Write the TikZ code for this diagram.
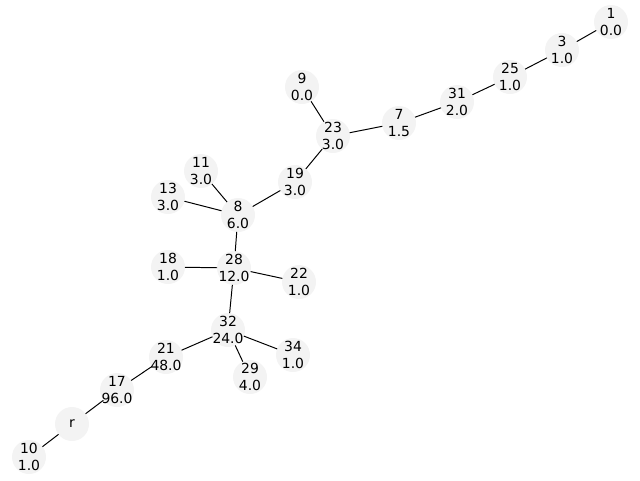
\documentclass[tikz,border=0pt]{standalone}
\usepackage{fontspec}
\setmainfont{DejaVu Sans}
\usepackage{tikz}
\definecolor{vfill}{RGB}{243,243,243}

\begin{document}
\begin{tikzpicture}[scale=0.25]
          \tikzstyle{every label}=[align=center, inner sep=0pt, font=\fontsize{9.9}{11.9}\selectfont]
          \tikzstyle{vtx}=[circle, fill=vfill, minimum size=0.85cm, inner sep=0pt, outer sep=0pt]
          \useasboundingbox (0,0) rectangle (64,-48);
          \node [vtx, label={center:1\\0.0}] (v1) at (61.1,-2.2) {};
          \node [vtx, label={center:3\\1.0}] (v3) at (56.2,-5.0) {};
          \node [vtx, label={center:25\\1.0}] (v25) at (51.0,-7.7) {};
          \node [vtx, label={center:31\\2.0}] (v31) at (45.7,-10.2) {};
          \node [vtx, label={center:7\\1.5}] (v7) at (39.9,-12.3) {};
          \node [vtx, label={center:23\\3.0}] (v23) at (33.3,-13.6) {};
          \node [vtx, label={center:9\\0.0}] (v9) at (30.2,-8.7) {};
          \node [vtx, label={center:19\\3.0}] (v19) at (29.5,-18.2) {};
          \node [vtx, label={center:11\\3.0}] (v11) at (20.1,-17.1) {};
          \node [vtx, label={center:13\\3.0}] (v13) at (16.8,-19.7) {};
          \node [vtx, label={center:8\\6.0}] (v8) at (23.8,-21.5) {};
          \node [vtx, label={center:28\\12.0}] (v28) at (23.4,-26.8) {};
          \node [vtx, label={center:18\\1.0}] (v18) at (16.8,-26.7) {};
          \node [vtx, label={center:22\\1.0}] (v22) at (29.9,-28.2) {};
          \node [vtx, label={center:32\\24.0}] (v32) at (22.8,-33.0) {};
          \node [vtx, label={center:34\\1.0}] (v34) at (29.3,-35.5) {};
          \node [vtx, label={center:29\\4.0}] (v29) at (25.0,-37.7) {};
          \node [vtx, label={center:21\\48.0}] (v21) at (16.6,-35.7) {};
          \node [vtx, label={center:17\\96.0}] (v17) at (11.7,-39.0) {};
          \node [vtx, label={center:r}] (vr) at (7.2,-42.4) {};
          \node [vtx, label={center:10\\1.0}] (v10) at (2.9,-45.7) {};
          \draw [black, line width=0.7pt] (v1) -- (v3);
          \draw [black, line width=0.7pt] (v3) -- (v25);
          \draw [black, line width=0.7pt] (v25) -- (v31);
          \draw [black, line width=0.7pt] (v31) -- (v7);
          \draw [black, line width=0.7pt] (v7) -- (v23);
          \draw [black, line width=0.7pt] (v9) -- (v23);
          \draw [black, line width=0.7pt] (v23) -- (v19);
          \draw [black, line width=0.7pt] (v19) -- (v8);
          \draw [black, line width=0.7pt] (v11) -- (v8);
          \draw [black, line width=0.7pt] (v13) -- (v8);
          \draw [black, line width=0.7pt] (v8) -- (v28);
          \draw [black, line width=0.7pt] (v18) -- (v28);
          \draw [black, line width=0.7pt] (v22) -- (v28);
          \draw [black, line width=0.7pt] (v28) -- (v32);
          \draw [black, line width=0.7pt] (v32) -- (v34);
          \draw [black, line width=0.7pt] (v32) -- (v29);
          \draw [black, line width=0.7pt] (v32) -- (v21);
          \draw [black, line width=0.7pt] (v21) -- (v17);
          \draw [black, line width=0.7pt] (v17) -- (vr);
          \draw [black, line width=0.7pt] (vr) -- (v10);
\end{tikzpicture}
\end{document}
